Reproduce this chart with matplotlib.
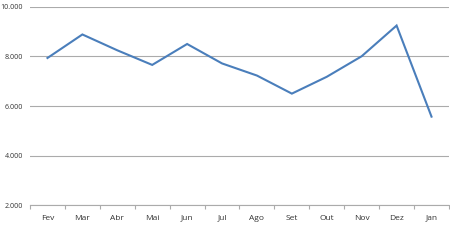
import matplotlib
matplotlib.use("Agg")
import matplotlib.pyplot as plt
from matplotlib.ticker import FixedLocator, FuncFormatter

months = ["Fev", "Mar", "Abr", "Mai", "Jun", "Jul", "Ago", "Set", "Out", "Nov", "Dez", "Jan"]
values = [7940, 8890, 8250, 7660, 8505, 7720, 7230, 6500, 7180, 8010, 9250, 5570]
yticks = [2000, 4000, 6000, 8000, 10000]

fig = plt.figure(figsize=(4.5, 2.47), dpi=100)
ax = fig.add_axes([0.0667, 0.170, 0.931, 0.8017])
x = list(range(len(months)))
ax.plot(x, values, color="#4A7EBB", lw=1.5, solid_joinstyle="miter")
ax.set_xlim(-0.5, len(months) - 0.5)
ax.set_ylim(2000, 10000)
ax.set_yticks(yticks)
ax.yaxis.set_major_formatter(FuncFormatter(lambda v, p: f"{int(v):,}".replace(",", ".")))
ax.grid(axis="y", color="#ABABAB", lw=0.8)
ax.set_axisbelow(True)
ax.set_xticks(x)
ax.set_xticklabels(months)
ax.xaxis.set_minor_locator(FixedLocator([i - 0.5 for i in range(len(months) + 1)]))
ax.tick_params(axis="x", which="major", length=0, labelsize=6.0, pad=7, labelcolor="#333333")
ax.tick_params(axis="x", which="minor", length=3, color="#ABABAB", width=0.8)
ax.tick_params(axis="y", length=0, labelsize=5.1, pad=5, labelcolor="#333333")
for s in ["top", "right", "left"]:
    ax.spines[s].set_visible(False)
ax.spines["bottom"].set_color("#ABABAB")
ax.spines["bottom"].set_linewidth(0.8)
for lab in ax.get_xticklabels() + ax.get_yticklabels():
    lab.set_family(["Open Sans", "DejaVu Sans"])
fig.savefig("out.png", dpi=100)
